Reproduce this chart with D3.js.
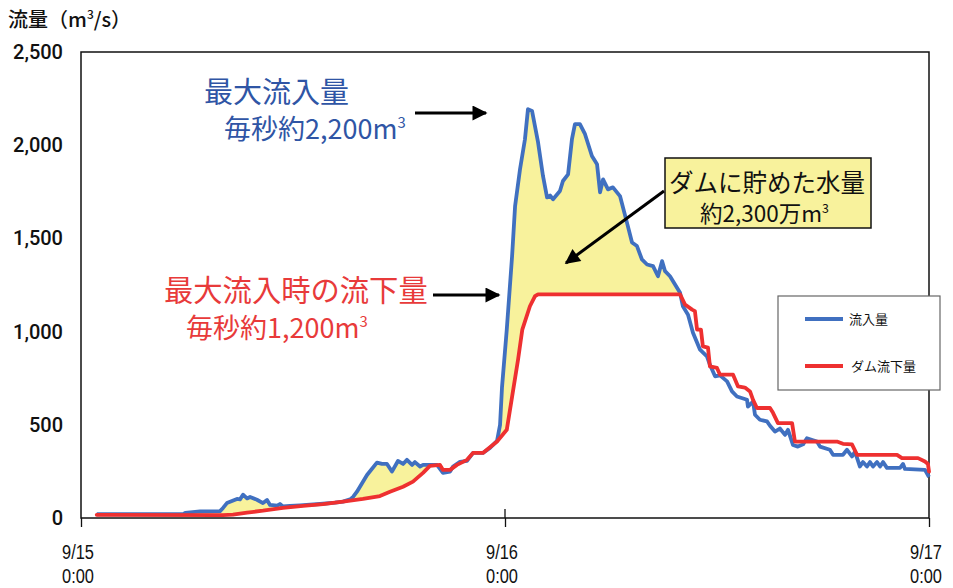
<!DOCTYPE html>
<html><head><meta charset="utf-8">
<script src="https://cdn.jsdelivr.net/npm/d3@7/dist/d3.min.js"></script>
<style>
body{margin:0;background:#fff;}
svg{display:block;}
text{font-family:"Noto Sans CJK JP","Noto Sans",sans-serif;}
</style></head>
<body><svg id="c" width="953" height="588"></svg>
<script>
// hours from 9/15 0:00
const inflowHours = [0.89,5.77,5.9,6.74,7.87,8.04,8.26,8.83,9.0,9.17,9.4,9.57,9.96,10.3,10.53,10.7,11.1,11.26,11.43,11.83,12.4,13.53,14.38,14.83,15.23,15.4,15.62,16.19,16.75,17.04,17.32,17.6,17.94,18.23,18.45,18.74,18.9,19.19,19.36,20.15,20.49,20.89,21.06,21.45,21.85,22.19,22.75,23.15,23.55,23.72,23.83,24.1,24.4,24.57,24.85,25.13,25.3,25.53,25.87,26.15,26.38,26.55,26.72,27.11,27.28,27.57,27.79,27.96,28.24,28.53,28.92,29.21,29.38,29.55,29.83,30.11,30.51,30.9,31.19,31.47,31.75,32.04,32.38,32.66,32.89,33.06,33.34,33.91,34.07,34.36,34.64,35.04,35.43,35.6,35.89,36.17,36.57,36.85,37.13,37.7,37.75,38.04,38.15,38.43,38.83,39.0,39.28,39.56,39.85,40.02,40.3,40.58,40.87,41.09,41.66,41.83,42.39,42.57,43.13,43.36,43.64,43.81,44.09,44.26,44.49,44.66,44.83,45.06,45.23,45.4,45.62,46.36,46.53,46.64,47.77,48.0];
const inflowValues = [20,20,28,35,37,54,80,102,100,125,105,113,98,80,97,70,66,75,62,65,68,75,82,88,100,113,141,231,297,290,290,249,306,290,312,285,300,276,285,285,242,249,276,301,306,349,349,376,414,500,700,1011,1403,1672,1871,2032,2193,2184,2016,1835,1720,1730,1710,1754,1808,1844,2032,2113,2113,2059,1942,1898,1747,1817,1763,1774,1727,1586,1478,1459,1387,1360,1351,1297,1378,1324,1297,1208,1136,1091,994,903,867,822,760,765,733,679,652,634,598,625,554,527,518,495,464,480,446,473,392,383,395,428,410,383,366,339,339,366,330,356,276,300,276,300,276,300,276,300,269,269,290,263,258,220];
const outflowHours = [0.89,8.04,8.6,9.4,10.3,11.43,12.57,13.7,14.83,15.96,16.92,17.49,18.23,18.79,19.36,19.75,20.32,20.49,20.89,21.28,21.85,22.19,22.75,23.55,24.1,24.4,24.74,24.98,25.41,25.7,25.87,33.91,34.19,34.59,34.75,34.87,35.09,35.2,35.49,35.6,36.0,36.17,36.91,37.19,37.58,37.87,38.04,38.26,39.0,39.17,39.45,40.25,40.41,42.79,43.13,43.64,43.93,46.19,46.47,47.38,47.77,47.94,48.0];
const outflowValues = [17,15,18,29,39,54,65,75,88,102,118,141,168,195,242,280,285,258,258,285,312,349,349,410,473,650,850,1011,1136,1190,1200,1200,1145,1118,1110,1011,1011,921,914,813,805,769,769,706,700,679,634,590,590,564,509,509,410,410,398,395,339,339,321,321,303,290,249];
const yTicks = [0,500,1000,1500,2000,2500];
const xTickHours = [0,24,48];
const xTickDates = ["9/15","9/16","9/17"];
const xTickTimes = ["0:00","0:00","0:00"];
const seriesNames = ["流入量","ダム流下量"];

const svg = d3.select("#c");
const L=81,R=929,T=52,B=518;
const x = d3.scaleLinear().domain([0,48]).range([L,R]);
const y = d3.scaleLinear().domain([0,2500]).range([B,T]);
const blue="#4070c0", red="#ee3030", yellow="#f8f29c";

const inflow = inflowHours.map((h,i)=>({h,v:inflowValues[i]}));
const outflow = outflowHours.map((h,i)=>({h,v:outflowValues[i]}));

// clip: region above outflow
const defs = svg.append("defs");
defs.append("clipPath").attr("id","aboveRed").append("path")
  .attr("d", d3.area().x(d=>x(d.h)).y0(T-5).y1(d=>y(d.v))(outflow));
svg.append("path").attr("clip-path","url(#aboveRed)")
  .attr("d", d3.area().x(d=>x(d.h)).y0(B).y1(d=>y(d.v))(inflow))
  .attr("fill",yellow);

// frame
svg.append("rect").attr("x",L).attr("y",T).attr("width",R-L).attr("height",B-T)
  .attr("fill","none").attr("stroke","#111").attr("stroke-width",1.5);

// y axis
const ya = svg.append("g").attr("transform",`translate(${L},0)`)
  .call(d3.axisLeft(y).tickValues(yTicks).tickSize(0).tickPadding(18).tickFormat(d3.format(",")));
ya.select(".domain").remove();
ya.selectAll("text").attr("font-size",20).attr("fill","#111").attr("font-weight",500)
  .style("font-family","Roboto,'Liberation Sans',Arial,sans-serif");

// x axis ticks
const xa = svg.append("g").attr("transform",`translate(0,${B})`)
  .call(d3.axisBottom(x).tickValues(xTickHours).tickSize(9).tickFormat(""));
xa.select(".domain").remove();
xa.selectAll("line").attr("stroke","#111").attr("stroke-width",1.3);
svg.append("line").attr("x1",x(24)).attr("x2",x(24)).attr("y1",B-9).attr("y2",B).attr("stroke","#111").attr("stroke-width",1.3);
xTickHours.forEach((h,i)=>{
  const cx = Math.min(x(h)-3, 928);
  const g = svg.append("g").attr("transform",`translate(${cx},0) scale(0.8,1)`);
  g.append("text").attr("x",0).attr("y",559).attr("text-anchor","middle").attr("font-size",20.5).attr("fill","#111")
   .style("font-family","'Liberation Sans',Arial,sans-serif").text(xTickDates[i]);
  g.append("text").attr("x",0).attr("y",583).attr("text-anchor","middle").attr("font-size",20.5).attr("fill","#111")
   .style("font-family","'Liberation Sans',Arial,sans-serif").text(xTickTimes[i]);
});

// lines
const line = d3.line().x(d=>x(d.h)).y(d=>y(d.v));
svg.append("path").attr("d",line(inflow)).attr("fill","none").attr("stroke",blue).attr("stroke-width",3.8).attr("stroke-linejoin","round");
svg.append("path").attr("d",line(outflow)).attr("fill","none").attr("stroke",red).attr("stroke-width",3.8).attr("stroke-linejoin","round").attr("stroke-linecap","round");

// title
const t = svg.append("text").attr("x",8).attr("y",27).attr("font-size",20).attr("fill","#111").attr("font-weight",500);
t.append("tspan").text("流量（m");
t.append("tspan").attr("font-size",12).attr("dy",-8).text("3");
t.append("tspan").attr("dy",8).text("/s）");

// arrows
const mk = defs.append("marker").attr("id","ah").attr("viewBox","0 0 10 10").attr("refX",9).attr("refY",5)
  .attr("markerWidth",6).attr("markerHeight",5).attr("markerUnits","strokeWidth").attr("orient","auto");
mk.append("path").attr("d","M0,0L10,5L0,10Z").attr("fill","#000");
function arrow(x1,y1,x2,y2){svg.append("line").attr("x1",x1).attr("y1",y1).attr("x2",x2).attr("y2",y2)
  .attr("stroke","#000").attr("stroke-width",3).attr("marker-end","url(#ah)");}
arrow(415,113,486,113);
arrow(433,295,499,295);
arrow(664,191,566,263);

// annotations
function label(xp,yp,txt,sup,col,fs){
  const e = svg.append("text").attr("x",xp).attr("y",yp).attr("font-size",fs).attr("fill",col);
  e.append("tspan").text(txt);
  if(sup){e.append("tspan").attr("font-size",fs*0.55).attr("dy",-fs*0.4).text(sup);}
}
label(204,103,"最大流入量",null,"#2f55a5",29);
label(224,139,"毎秒約2,200m","3","#2f55a5",27);
label(164,301,"最大流入時の流下量",null,"#e83a3a",29.3);
label(186,338,"毎秒約1,200m","3","#e83a3a",27);

// yellow box
svg.append("rect").attr("x",665).attr("y",158).attr("width",206).attr("height",70)
  .attr("fill",yellow).attr("stroke","#111").attr("stroke-width",1.5);
label(669,192,"ダムに貯めた水量",null,"#111",24.5);
label(700,222,"約2,300万m","3","#111",22.5);

// legend
svg.append("rect").attr("x",778).attr("y",296).attr("width",162).attr("height",94)
  .attr("fill","#fff").attr("stroke","#666").attr("stroke-width",1.2);
[[blue,319],[red,366]].forEach((d,i)=>{
  svg.append("line").attr("x1",805).attr("x2",843).attr("y1",d[1]).attr("y2",d[1]).attr("stroke",d[0]).attr("stroke-width",4);
  svg.append("text").attr("x",849+i*2).attr("y",d[1]+5).attr("font-size",13).attr("fill","#111").text(seriesNames[i]);
});
</script></body></html>
